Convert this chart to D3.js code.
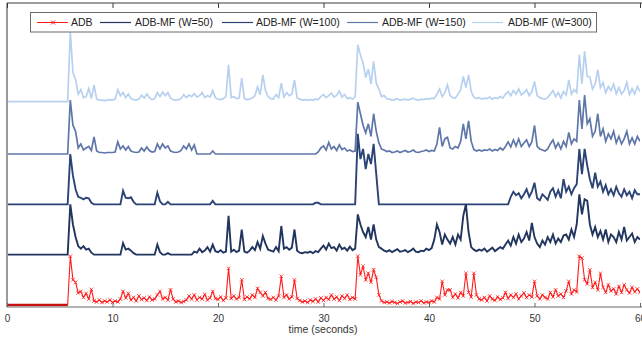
<!DOCTYPE html>
<html>
<head>
<meta charset="utf-8">
<script src="https://cdn.jsdelivr.net/npm/d3@7"></script>
<style>
  html, body { margin: 0; padding: 0; background: #fff; }
  svg { display: block; }
  text { font-family: "Liberation Sans", Arial, sans-serif; }
</style>
</head>
<body>
<svg id="chart" width="642" height="341"></svg>
<script>
// ---------------- DATA ----------------
const timeStep = 0.25;           // seconds between samples
const sampleCount = 241;          // 0 .. 60 s
const xTicks = [0, 10, 20, 30, 40, 50, 60];
const xLabel = "time (seconds)";
const seriesNames = ["ADB", "ADB-MF (W=50)", "ADB-MF (W=100)", "ADB-MF (W=150)", "ADB-MF (W=300)"];

const adb = [
  0,0,0,0,0,0,0,0,0,0,0,0,0,0,0,0,0,0,0,0,
  0,0,0,0,9.7,5,4.5,2.4,2.7,1.5,2.3,1.2,3.1,0.8,0.6,1,0.5,0.8,0.6,1,
  0.5,0.8,0.6,1.2,2.7,1.4,2.3,1,1.5,0.8,1.8,1.1,1.4,0.9,1.6,1,1.2,2,2.7,1.2,
  1.5,1,3,1.2,0.6,0.8,0.5,0.7,1,1.8,1.2,2,1,1.5,1.2,2.1,1,1.4,2.7,1.3,
  1.1,1.6,0.9,1.4,7.3,1.3,1.8,1.2,1.5,5,1.1,1.6,1.2,2,1.5,3.3,2.5,1.8,2.5,1.3,
  1.1,1.5,1,1.8,5.7,1.5,2,1.2,1.6,5,1.3,0.9,0.6,0.8,0.5,1,0.7,1.2,0.6,1.4,
  0.9,1.5,1.1,2,1.2,1.6,0.9,1.8,1.3,2,1.1,1.5,1.2,9.7,6,7.7,5,6.3,4.5,7,
  5.5,2,0.8,0.5,0.6,0.4,0.7,0.5,0.3,0.6,0.8,0.4,0.5,0.7,0.3,0.6,0.5,0.8,0.4,0.6,
  0.5,0.8,0.6,1.5,1.2,4.7,2,3,3,1.5,2.2,1.4,2.5,1.8,6.3,2.5,1.6,6.3,2,1.2,
  1,1.5,0.8,1.8,1.2,0.9,1.6,1.1,1.4,2.5,1.3,2,1.5,2.2,1.2,1.8,2.4,1.5,2,1.6,
  4.7,1.8,1.2,2,1.5,1.2,2.5,1.6,3,1.8,2.2,1.5,2.8,4.7,2.2,3,2.6,9.7,9.3,5,
  4.2,7,3.5,4.5,3,6.3,3.5,2.5,4,2.8,3.2,2.2,3.7,2.5,4,3,2.4,3.5,2.6,3.2,
  2.5
];

const mf50 = [
  0,0,0,0,0,0,0,0,0,0,0,0,0,0,0,0,0,0,0,0,
  0,0,0,0,10,6,3.5,1.7,1.2,1.7,1,1.2,0.4,0,0,0,0,0,0,0,
  0,0,0,0,2.3,1,1.2,0.8,0.3,0,0,0,0,0,0,0,0,2,0.5,0,
  0,0.3,0,0,0,0,0,0,0,0,0,0.6,0.4,1.2,0.5,0.8,1.5,0.6,2,0.7,
  0.5,0.9,0.4,0.6,7.7,0.6,1,0.5,0.8,5,0.6,0.4,0.8,1.5,0.9,2.5,1.2,3.7,2.2,1,
  0.8,0.6,1.5,0.7,5.7,1.2,1.5,1,1.4,5,0.8,0.4,0.3,0.5,0.4,0.6,0.3,0.7,0.5,1.2,
  1.8,1,2.2,1.3,1.5,0.8,2,1.1,1.4,0.8,1.6,0.9,1.2,8,6,4.5,3.5,5.5,3,6,
  3,1.5,1.2,0.8,0.6,0.9,0.5,0.8,1.1,0.6,0.7,0.9,0.5,0.8,1.2,0.6,0.5,0.8,0.7,1.2,
  0.9,1.3,3,6,4.5,2,4,3,2.2,3.5,2,4,3,7.7,10,4.5,1.5,1,0.7,1,
  0.8,1.2,0.6,1,1.4,0.7,1.1,1.5,1.2,2,2.8,1.8,3.5,2.2,4,2.5,3.2,4.5,2.8,6.3,
  3.5,2.2,1.5,2.8,2,3.5,2.5,4,2.2,3.2,2.5,3.8,4,3,5,3.5,6,12,8,11,
  10.7,6,4,5.5,3.5,4.7,3,5,2.5,4,3.5,2.5,4.5,3,5.5,2.8,3.5,4.2,2.5,3.5,
  3
];

const mf100 = [
  0,0,0,0,0,0,0,0,0,0,0,0,0,0,0,0,0,0,0,0,
  0,0,0,0,10,5.7,3,1.5,1.3,1,1.3,1.2,0.3,0,0,0,0,0,0,0,
  0,0,0,0,2.7,1.3,1.2,1.4,0.5,0,0,0,0,0,0,0,0,2.3,0.6,0,
  0,0.5,0,0,0,0,0,0,0,0,0,0,0,0,0,0,0,0,0.7,0,
  0,0,0,0,0,0,0,0,0,0,0,0,0,0,0,0,0,0,0,0,
  0,0,0,0,0,0,0,0,0,0,0,0,0,0,0,0,0,0.3,0.3,0,
  0,0,0,0,0,0,0,0,0,0,0,0,0,14,9,11,7,10,8,12,
  6,0,0,0,0,0,0,0,0,0,0,0,0,0,0,0,0,0,0,0,
  0,0,0,0,0,0,0,0,0,0,0,0,0,0,0,0,0,0,0,0,
  0,0,0,0,0,0,0,0,0,0,0,1.5,2.5,1.8,2.2,1.2,2,3,1.5,2.5,
  4.3,1.2,0.8,2,1.5,0.9,2.5,3.2,1.5,2.8,1.2,5,2.5,3.5,2,3.2,4,11,6,11,
  7.7,5,3.2,6.3,3.5,4.5,2.5,3.8,2,3,1.8,3.5,2.2,1.5,3,1.8,2.5,1.2,2.8,2,
  2
];

const mf150 = [
  0,0,0,0,0,0,0,0,0,0,0,0,0,0,0,0,0,0,0,0,
  0,0,0,0,10.7,5.7,4.5,1.2,2,0.8,1.2,1.5,0.7,3.4,0.6,0.3,0.3,0.2,0.3,0.3,
  0.3,0.4,2.4,1,1.6,0.8,1.5,0.6,0.4,0.3,0.4,1.2,0.6,1.4,0.7,0.4,0.5,2,1,2,
  1.2,1.6,0.6,0.4,0.3,0.4,0.7,1.6,1,2,0.8,1.8,0,0,0,0,0,0,0.6,0,
  0,0,0,0,0,0,0,0,0,0,0,0,0,0,0,0,0,0,0,0,
  0,0,0,0,0,0,0,0,0,0,0,0,0,0,0,0,0,0,0.4,1.2,
  1.6,0.8,2.3,1,1.5,0.7,1.8,0.9,1.2,0.6,0.8,0.5,0.6,10.3,8,5.7,4.2,6,3.5,8,
  4.5,2.2,1,0.8,0.5,0.6,0.3,0.4,0.6,0.3,0.5,0.7,0.4,0.5,0.8,0.4,0.3,0.5,0.6,0.8,
  0.5,0.7,0.6,2,5.3,1.5,3,3.3,1.2,1,1.5,1.2,2.5,6,3,6.6,2.5,0.9,0.6,0.8,
  0.6,0.8,0.7,1,0.6,0.9,0.7,1.2,0.8,1.5,2.4,1.4,2.8,1.6,3,1.5,2.2,2.8,1.5,2.4,
  5.7,1.5,1,0.8,0.6,1,2,2.8,1.2,2.2,1,2.5,1.5,4.3,2,3,2.5,10.7,5,11.7,
  6,7,3.5,4.5,8,3.5,5,2.5,4,3,4.5,2.2,3.5,2,3,4.5,2,3.2,2,3.5,
  2.5
];

const mf300 = [
  0,0,0,0,0,0,0,0,0,0,0,0,0,0,0,0,0,0,0,0,
  0,0,0,0,14,5.8,4.4,1.5,2.4,0.8,1,2.6,0.6,3.3,0.5,0.3,0.3,0.2,0.3,0.4,
  0.3,0.5,2.4,1.2,1.8,0.8,1.5,0.6,0.4,0.3,0.5,1.3,0.7,1.5,0.8,0.4,0.6,1.8,1,1.9,
  1.2,1.8,0.7,0.4,0.3,0.4,0.6,1.4,0.8,1.3,1,1.6,0.9,1.2,1.8,0.8,1.2,0.9,2.2,0.8,
  0.5,0.4,0.6,1,7.3,0.8,1,0.6,0.7,4.7,0.6,0.4,0.5,0.7,1.2,2.9,1.4,5.3,2.2,1,
  0.6,0.5,1.4,0.8,3.7,0.9,1.8,1.2,1.5,4.3,0.8,0.5,0.3,0.4,0.3,0.4,0.3,0.5,0.4,1,
  1.4,0.8,1.2,1.7,0.9,1.3,2.1,0.9,1.4,0.6,0.8,0.5,1,11.3,9.3,7.7,4.8,6.5,3.5,8,
  3.7,2.5,1,1.2,0.6,0.5,0.3,0.4,0.6,0.3,0.4,0.5,0.3,0.5,0.7,0.4,0.3,0.5,0.4,0.6,
  0.5,0.7,0.6,1.5,2.5,1,1.8,3.3,1.2,0.8,0.7,1.5,2.4,5,2.8,5.3,2,0.9,0.6,0.8,
  0.5,0.7,0.6,0.9,0.5,0.8,0.6,1,0.7,1.5,2,1.2,2.2,1.5,2.5,1.3,1.8,2.4,1.2,2,
  4,1.2,0.8,0.6,0.5,0.8,1.5,2.2,1,1.8,0.7,2,1.3,4.3,1.5,2.4,1.8,9.3,3.5,10,
  5,4.9,2.5,3.5,6.3,2.8,3.8,1.8,3,2.2,3.5,1.6,2.8,1.5,2.2,3.8,1.4,2.6,1.5,3,
  2
];

// ---------------- LAYOUT / STYLE ----------------
const W = 642, H = 341;
const frame = { left: 7, right: 640, top: 3, bottom: 307 };
const bandOffsets = [0, 10, 20, 30, 40.4];     // vertical stacking of the traces
const colors = ["#ff1a1a", "#21355f", "#2b4375", "#5f77a8", "#b7d0f0"];
const widths = [1.1, 1.9, 1.9, 1.7, 1.7];

const times = d3.range(sampleCount).map(i => i * timeStep);
const seriesValues = [adb, mf50, mf100, mf150, mf300];

const svg = d3.select("#chart");
const x = d3.scaleLinear().domain([0, 60]).range([frame.left, frame.right]);
const y = d3.scaleLinear().domain([0, 60]).range([305, frame.top]);

svg.append("defs").append("clipPath").attr("id", "clip")
  .append("rect").attr("x", frame.left).attr("y", frame.top)
  .attr("width", frame.right - frame.left).attr("height", frame.bottom - frame.top);

const plot = svg.append("g").attr("clip-path", "url(#clip)");

// draw from top band (light) down to red so lower series overlay upper spikes
for (let s = 4; s >= 0; s--) {
  const vals = seriesValues[s];
  const off = bandOffsets[s];
  const line = d3.line()
    .x((d, i) => x(times[i]))
    .y(d => y(d + off));
  plot.append("path")
    .datum(vals)
    .attr("fill", "none")
    .attr("stroke", colors[s])
    .attr("stroke-width", widths[s])
    .attr("stroke-linejoin", "miter")
    .attr("d", line);
}

// flat pre-onset part of ADB drawn darker/thicker as in the reference
plot.append("path")
  .datum(adb.map((v, i) => ({ t: times[i], v })).filter(d => d.t <= 6 && d.v === 0))
  .attr("fill", "none").attr("stroke", "#c81010").attr("stroke-width", 2.6)
  .attr("d", d3.line().x(d => x(d.t)).y(d => y(d.v)));

// ADB markers
const marker = d3.symbol().type(d3.symbolX).size(10);
plot.append("g").selectAll("path")
  .data(adb.map((v, i) => ({ t: times[i], v })).filter(d => d.v > 0))
  .join("path")
  .attr("transform", d => `translate(${x(d.t)},${y(d.v)})`)
  .attr("d", marker)
  .attr("fill", "none")
  .attr("stroke", colors[0])
  .attr("stroke-width", 0.8);

// ---------------- FRAME & AXES ----------------
svg.append("line").attr("x1", frame.left).attr("x2", W).attr("y1", frame.top).attr("y2", frame.top)
  .attr("stroke", "#3a3a3a").attr("stroke-width", 1.2);
svg.append("line").attr("x1", frame.left).attr("x2", frame.left).attr("y1", frame.top).attr("y2", frame.bottom)
  .attr("stroke", "#9a9a9a").attr("stroke-width", 2);
svg.append("line").attr("x1", frame.left).attr("x2", W).attr("y1", frame.bottom).attr("y2", frame.bottom)
  .attr("stroke", "#9a9a9a").attr("stroke-width", 1.5);

const axisB = d3.axisBottom(x).tickValues(xTicks).tickSizeInner(-4).tickSizeOuter(0).tickPadding(8);
const gB = svg.append("g").attr("transform", `translate(0,${frame.bottom})`).call(axisB);
gB.select(".domain").remove();
gB.selectAll("line").attr("stroke", "#666");
gB.selectAll("text").attr("fill", "#333").attr("font-size", "10px")
  .style("font-family", "'Liberation Sans', Arial, sans-serif");

const axisT = d3.axisTop(x).tickValues(xTicks).tickSizeInner(-5).tickSizeOuter(0).tickFormat("");
const gT = svg.append("g").attr("transform", `translate(0,${frame.top})`).call(axisT);
gT.select(".domain").remove();
gT.selectAll("line").attr("stroke", "#3a3a3a");

svg.append("text").attr("x", 323).attr("y", 333).attr("text-anchor", "middle")
  .attr("font-size", "10.5px").attr("fill", "#333").text(xLabel);

// ---------------- LEGEND ----------------
const lg = svg.append("g");
lg.append("rect").attr("x", 30.5).attr("y", 12.5).attr("width", 566).attr("height", 19.5)
  .attr("fill", "#fff").attr("stroke", "#6a6a6a").attr("stroke-width", 1);
const legendItems = [
  { lx: 37, tx: 71 },
  { lx: 100, tx: 135 },
  { lx: 222, tx: 256 },
  { lx: 347, tx: 382 },
  { lx: 472, tx: 508 }
];
legendItems.forEach((it, s) => {
  const ly = 22.5;
  lg.append("line").attr("x1", it.lx).attr("x2", it.lx + 31).attr("y1", ly).attr("y2", ly)
    .attr("stroke", colors[s]).attr("stroke-width", s === 0 ? 1 : 1.2);
  if (s === 0) {
    lg.append("path").attr("transform", `translate(${it.lx + 16},${ly})`)
      .attr("d", d3.symbol().type(d3.symbolX).size(12)())
      .attr("fill", "none").attr("stroke", colors[0]).attr("stroke-width", 1);
  }
  lg.append("text").attr("x", it.tx).attr("y", ly + 3.6)
    .attr("font-size", "10.5px").attr("fill", "#222").text(seriesNames[s]);
});
</script>
</body>
</html>
